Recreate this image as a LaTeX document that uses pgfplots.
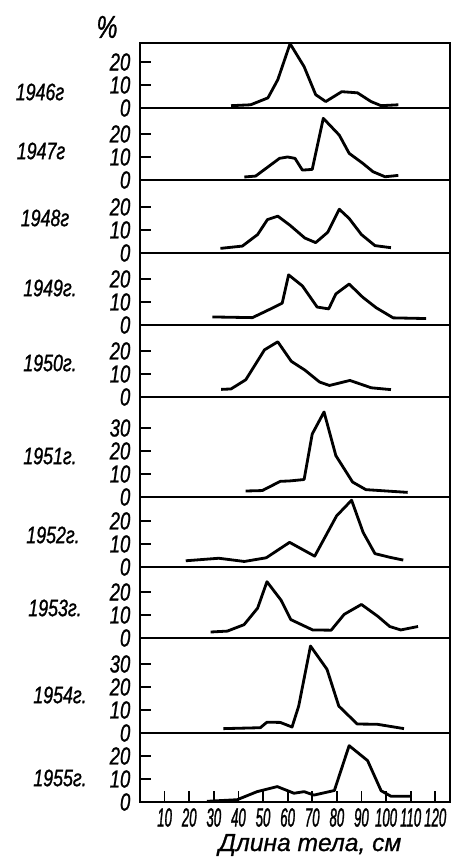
\documentclass[border=0pt]{standalone}
\usepackage{fontspec}
\setmainfont{Liberation Sans}
\newfontfamily\yf{Liberation Sans}[FakeStretch=0.75, FakeBold=1]
\newfontfamily\xf{Liberation Sans}[FakeStretch=0.5, FakeBold=1]
\newfontfamily\lf{Liberation Sans}[FakeBold=0.8]
\usepackage{pgfplots}
\pgfplotsset{compat=1.18}

\pgfplotsset{
  panel/.style={
    anchor=south west, width=6.2cm, scale only axis,
    xmin=0, xmax=126, ymin=0,
    axis line style={line width=1.2pt},
    tick style={black, line width=1pt},
    major tick length=0.22cm,
    tick align=inside,
    ytick pos=left, xtick=\empty,
    /pgf/number format/assume math mode=true,
    yticklabel style={font=\yf\itshape\fontsize{14}{14}\selectfont, xshift=-2pt},
  },
  curve/.style={black, line width=1.6pt, line join=round, no marks},
}

\begin{document}
\begin{tikzpicture}
\useasboundingbox (0,0) rectangle (9.2cm,17.18cm);

% 1946
\begin{axis}[panel, at={(2.8cm,15.02cm)}, height=1.30cm, ymax=28.3, ytick={0,10,20}]
\addplot[curve] coordinates {(37,1) (45,1.4) (52,4.4) (56,12.3) (61,28) (66.7,18) (71.4,5.8) (75.5,2.8) (82,7.1) (88.4,6.6) (93.9,2.8) (98,1) (105,1.4)};
\end{axis}

% 1947
\begin{axis}[panel, at={(2.8cm,13.58cm)}, height=1.44cm, ymax=31.3, ytick={0,10,20}]
\addplot[curve] coordinates {(42.4,1.3) (47,1.7) (56.7,9.4) (60,10) (63,9.4) (66,4.3) (70,4.6) (74.5,26.8) (81,19.5) (85,11.6) (90.6,7.2) (94.7,3.6) (99.6,1.4) (105,2)};
\end{axis}

% 1948
\begin{axis}[panel, at={(2.8cm,12.12cm)}, height=1.46cm, ymax=31.7, ytick={0,10,20}]
\addplot[curve] coordinates {(32.7,2) (41.6,3) (47.8,8) (51.8,14.5) (56,16) (61,12) (67,6.5) (71.4,4.5) (76.3,9) (81,19) (85,15) (90,8) (95.5,3.2) (102,2.3)};
\end{axis}

% 1949
\begin{axis}[panel, at={(2.8cm,10.68cm)}, height=1.44cm, ymax=31.3, ytick={0,10,20}]
\addplot[curve] coordinates {(29.4,3.5) (45.7,3.2) (53.9,7.4) (57.8,9.5) (60.4,21.8) (66,17) (72,7.8) (76.7,7) (79.6,13.5) (85,17.8) (90.6,12) (96,7.5) (102.9,3.1) (116.3,2.8)};
\end{axis}

% 1950
\begin{axis}[panel, at={(2.8cm,9.24cm)}, height=1.44cm, ymax=31.3, ytick={0,10,20}]
\addplot[curve] coordinates {(33,3.3) (37,3.5) (43,7.5) (50.6,20.5) (56,24) (61.5,15.5) (67,11.7) (73,6.5) (77,5) (85.3,7.2) (94,4) (102,3.2)};
\end{axis}

% 1951
\begin{axis}[panel, at={(2.8cm,7.24cm)}, height=2.00cm, ymax=43.5, ytick={0,10,20,30}]
\addplot[curve] coordinates {(42.9,2.6) (49.7,2.8) (57,6.8) (61,7) (66.7,7.6) (70,27.4) (74.8,37) (79.6,18) (86.4,6.5) (91.8,3.2) (108.8,2)};
\end{axis}

% 1952
\begin{axis}[panel, at={(2.8cm,5.84cm)}, height=1.40cm, ymax=30.4, ytick={0,10,20}]
\addplot[curve] coordinates {(18.6,2.7) (32,3.8) (42.4,2.4) (51.3,4) (60.8,10.7) (71,4.7) (79.9,22.2) (86,29) (90.7,15) (95.5,5.8) (101.6,4.2) (107,3)};
\end{axis}

% 1953
\begin{axis}[panel, at={(2.8cm,4.42cm)}, height=1.42cm, ymax=30.9, ytick={0,10,20}]
\addplot[curve] coordinates {(28.7,2.6) (35.5,3) (42.3,5.8) (47.8,13) (51.6,24.5) (57.3,16.5) (61.3,8) (70.2,3.5) (77.7,3.4) (83,10.3) (90,14.6) (96.7,9.4) (101.5,5) (106,3.5) (113,5)};
\end{axis}

% 1954
\begin{axis}[panel, at={(2.8cm,2.52cm)}, height=1.90cm, ymax=41.3, ytick={0,10,20,30}]
\addplot[curve] coordinates {(33.9,1.9) (48.9,2.3) (51.6,4.7) (57,4.6) (61.8,2.6) (64.5,11.7) (69.3,37.8) (76,27.7) (80.8,11.7) (88.3,3.9) (96.4,3.8) (107.3,1.9)};
\end{axis}

% 1955
\begin{axis}[panel, at={(2.8cm,1.14cm)}, height=1.38cm, ymax=30, ytick={0,10,20},
  xtick={10,20,...,120}, xtick pos=bottom,
  xticklabel style={font=\xf\itshape\fontsize{15}{15}\selectfont}]
\addplot[curve] coordinates {(27.2,0.3) (39.5,1) (47.6,4.5) (55.8,6.7) (62.6,3.8) (66.7,4.5) (70.7,3) (79,5) (85,24.5) (92.5,18) (98,4.9) (102,2.5) (110,2.5)};
\end{axis}

\begin{scope}[font=\yf\itshape\fontsize{13.5}{13.5}\selectfont]
\node at (0.80cm,15.34cm) {1946г};
\node at (0.82cm,14.16cm) {1947г};
\node at (0.90cm,12.82cm) {1948г};
\node at (1.00cm,11.42cm) {1949г.};
\node at (1.00cm,9.92cm) {1950г.};
\node at (1.00cm,8.06cm) {1951г.};
\node at (1.06cm,6.48cm) {1952г.};
\node at (1.10cm,5.02cm) {1953г.};
\node at (1.20cm,3.28cm) {1954г.};
\node at (1.20cm,1.62cm) {1955г.};
\end{scope}
\node[font=\yf\itshape\fontsize{18}{18}\selectfont] at (2.14cm,16.64cm) {\%};
\node[font=\lf\itshape\fontsize{14}{14}\selectfont] at (6.2cm,0.28cm) {Длина тела, см};
\end{tikzpicture}
\end{document}
